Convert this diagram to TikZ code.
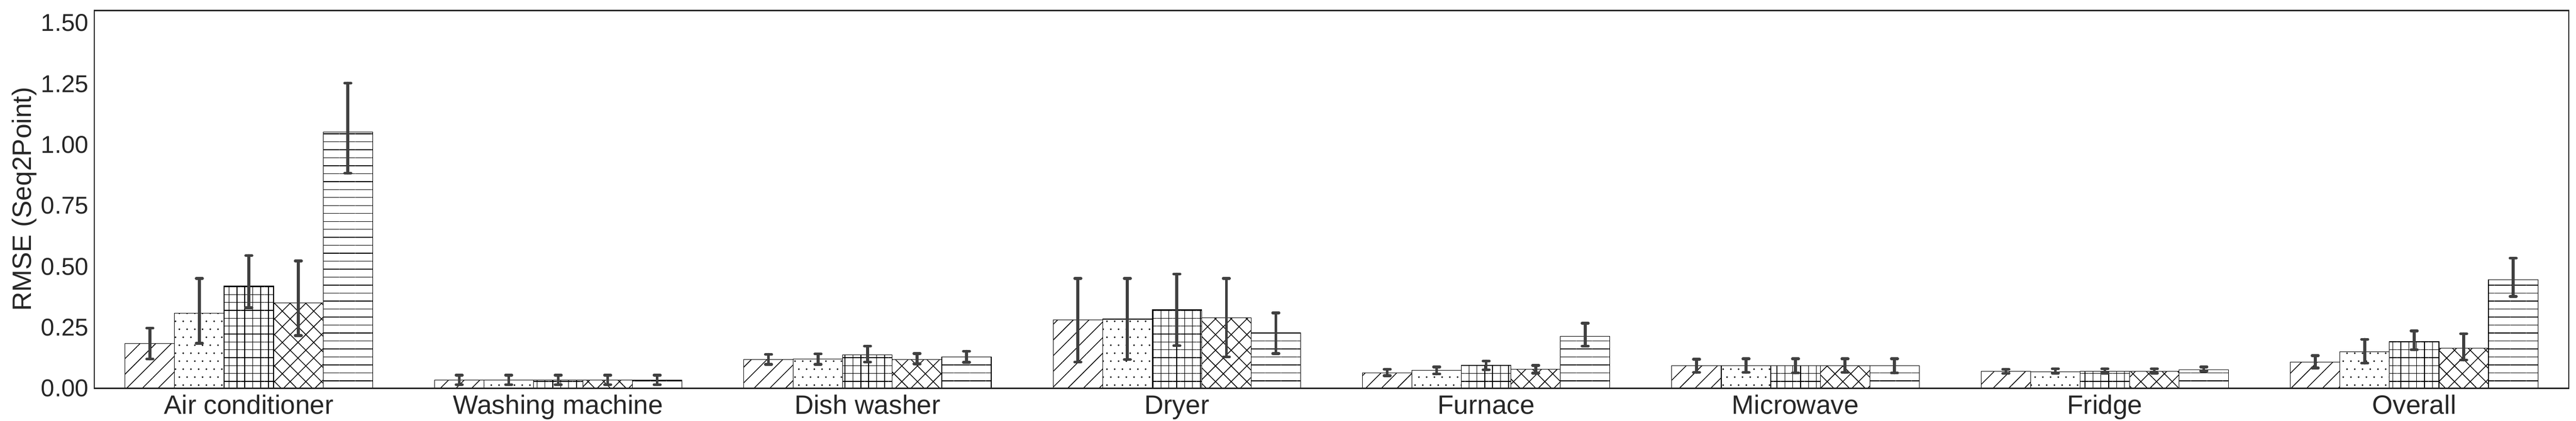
\documentclass[tikz,border=0pt]{standalone}
\usepackage{fontspec}
\setmainfont{Liberation Sans}
\usetikzlibrary{patterns.meta}
\definecolor{txt}{HTML}{262626}
\definecolor{errc}{HTML}{404040}
\tikzdeclarepattern{name=stagdots,type=uncolored,bottom left={(0pt,0pt)},top right={(4.7pt,9.5pt)},tile size={(4.7pt,9.5pt)},code={\fill (1.175pt,2.375pt) circle (0.55pt); \fill (3.525pt,7.125pt) circle (0.55pt);}}
\tikzset{
  barst/.style={draw=black,line width=0.35pt,pattern color=black},
  errst/.style={draw=errc,line width=1.7pt,line cap=round},
  ticklab/.style={text=txt,font=\fontsize{14.5}{17}\selectfont,anchor=east,inner sep=0pt},
  catlab/.style={text=txt,font=\fontsize{15.8}{19}\selectfont,anchor=base,inner sep=0pt},
}
\newcommand\mybar[2]{%
  \ifcase\b\relax
    \draw[barst,pattern={Lines[angle=45,distance=6.6pt,line width=0.45pt]}] (#1,0) rectangle ++(0.16,#2);
  \or
    \draw[barst,pattern=stagdots] (#1,0) rectangle ++(0.16,#2);
  \or
    \draw[barst,pattern={Hatch[angle=0,distance=4.7pt,line width=0.45pt]}] (#1,0) rectangle ++(0.16,#2);
  \or
    \draw[barst,pattern={Hatch[angle=45,distance=6.6pt,line width=0.45pt]}] (#1,0) rectangle ++(0.16,#2);
  \or
    \draw[barst,pattern={Lines[angle=0,distance=4.75pt,line width=0.45pt]}] (#1,0) rectangle ++(0.16,#2);
  \fi}
\begin{document}
\begin{tikzpicture}
\useasboundingbox (0,0) rectangle (53.88,8.81);
\begin{scope}[shift={(5.205,0.68)},x=6.47cm,y=5.10cm]
\foreach \g/\b/\v/\lo/\hi in {
 0/0/0.183/0.120/0.247, 0/1/0.309/0.185/0.451, 0/2/0.420/0.330/0.545, 0/3/0.351/0.216/0.523, 0/4/1.053/0.883/1.253,
 1/0/0.033/0.015/0.054, 1/1/0.033/0.015/0.054, 1/2/0.033/0.015/0.054, 1/3/0.033/0.015/0.054, 1/4/0.033/0.015/0.054,
 2/0/0.118/0.098/0.139, 2/1/0.120/0.098/0.141, 2/2/0.137/0.108/0.173, 2/3/0.119/0.100/0.143, 2/4/0.129/0.107/0.152,
 3/0/0.280/0.108/0.451, 3/1/0.284/0.118/0.451, 3/2/0.322/0.175/0.469, 3/3/0.290/0.129/0.451, 3/4/0.227/0.143/0.310,
 4/0/0.063/0.052/0.078, 4/1/0.073/0.059/0.088, 4/2/0.094/0.076/0.112, 4/3/0.078/0.062/0.094, 4/4/0.214/0.173/0.267,
 5/0/0.092/0.065/0.119, 5/1/0.092/0.065/0.121, 5/2/0.092/0.063/0.121, 5/3/0.092/0.065/0.121, 5/4/0.092/0.063/0.121,
 6/0/0.069/0.061/0.078, 6/1/0.068/0.062/0.080, 6/2/0.069/0.062/0.080, 6/3/0.069/0.062/0.080, 6/4/0.076/0.071/0.088,
 7/0/0.107/0.083/0.134, 7/1/0.150/0.103/0.201, 7/2/0.193/0.158/0.236, 7/3/0.165/0.116/0.224, 7/4/0.446/0.377/0.534}{
  \pgfmathsetmacro\xl{\g+(\b-2)*0.16-0.08}
  \pgfmathsetmacro\xc{\g+(\b-2)*0.16}
  \mybar{\xl}{\v}
}
\foreach \g/\b/\v/\lo/\hi in {
 0/0/0.183/0.120/0.247, 0/1/0.309/0.185/0.451, 0/2/0.420/0.330/0.545, 0/3/0.351/0.216/0.523, 0/4/1.053/0.883/1.253,
 1/0/0.033/0.015/0.054, 1/1/0.033/0.015/0.054, 1/2/0.033/0.015/0.054, 1/3/0.033/0.015/0.054, 1/4/0.033/0.015/0.054,
 2/0/0.118/0.098/0.139, 2/1/0.120/0.098/0.141, 2/2/0.137/0.108/0.173, 2/3/0.119/0.100/0.143, 2/4/0.129/0.107/0.152,
 3/0/0.280/0.108/0.451, 3/1/0.284/0.118/0.451, 3/2/0.322/0.175/0.469, 3/3/0.290/0.129/0.451, 3/4/0.227/0.143/0.310,
 4/0/0.063/0.052/0.078, 4/1/0.073/0.059/0.088, 4/2/0.094/0.076/0.112, 4/3/0.078/0.062/0.094, 4/4/0.214/0.173/0.267,
 5/0/0.092/0.065/0.119, 5/1/0.092/0.065/0.121, 5/2/0.092/0.063/0.121, 5/3/0.092/0.065/0.121, 5/4/0.092/0.063/0.121,
 6/0/0.069/0.061/0.078, 6/1/0.068/0.062/0.080, 6/2/0.069/0.062/0.080, 6/3/0.069/0.062/0.080, 6/4/0.076/0.071/0.088,
 7/0/0.107/0.083/0.134, 7/1/0.150/0.103/0.201, 7/2/0.193/0.158/0.236, 7/3/0.165/0.116/0.224, 7/4/0.446/0.377/0.534}{
  \pgfmathsetmacro\xc{\g+(\b-2)*0.16}
  \coordinate (lo) at (\xc,\lo);
  \coordinate (hi) at (\xc,\hi);
  \draw[errst] (lo) -- (hi);
  \draw[errst] ([xshift=-0.065cm]lo) -- ([xshift=0.065cm]lo);
  \draw[errst] ([xshift=-0.065cm]hi) -- ([xshift=0.065cm]hi);
}
\draw[draw=txt,line width=0.75pt] (-0.5,0) rectangle (7.5,1.551);
\foreach \t in {0.00,0.25,0.50,0.75,1.00,1.25,1.50}
  \node[ticklab] (t\t) at (-0.517,\t) {\t};
\foreach \g/\lab in {0/Air conditioner,1/Washing machine,2/Dish washer,3/Dryer,4/Furnace,5/Microwave,6/Fridge,7/Overall}
  \node[catlab] (c\g) at (\g,-0.106) {\lab};
\node[catlab,rotate=90] (ylab) at (-0.704,0.776) {RMSE (Seq2Point)};
\end{scope}
\end{tikzpicture}
\end{document}
